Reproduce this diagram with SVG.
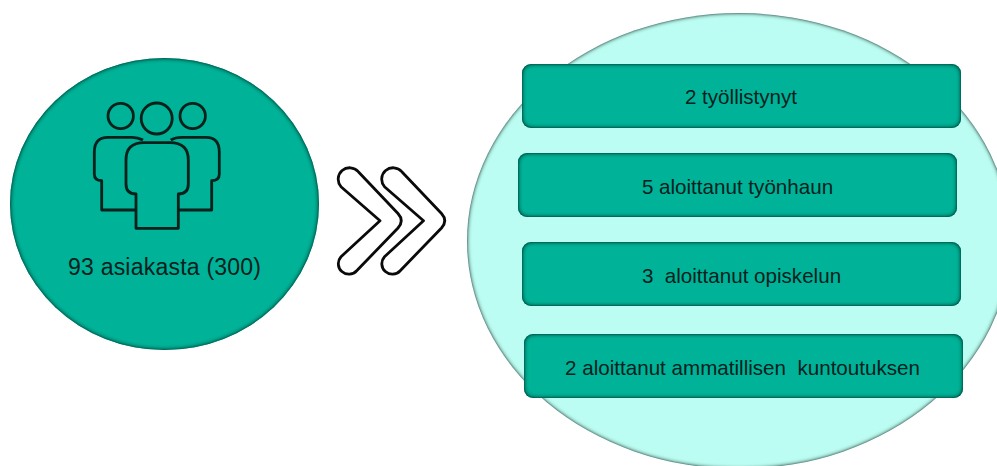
<svg xmlns="http://www.w3.org/2000/svg" width="997" height="466" viewBox="0 0 997 466">
<style>
.lbl{font-family:"Liberation Sans",Arial,sans-serif;fill:#04211d;text-anchor:middle;font-size:20.6px}
.box{fill:#00B398;filter:url(#inset)}
.icon{fill:none;stroke:#03201b;stroke-width:2.800;stroke-linejoin:round}
.chev{fill:#fff;stroke:#0a0a0a;stroke-width:2.800;stroke-linejoin:round}
</style>
<defs>
<filter id="inset" x="-5%" y="-5%" width="110%" height="110%">
<feGaussianBlur in="SourceAlpha" stdDeviation="2.500" result="b"/>
<feComposite in="SourceAlpha" in2="b" operator="out" result="e"/>
<feFlood flood-color="#00483d"/>
<feComposite in2="e" operator="in" result="s"/>
<feComponentTransfer in="s" result="s2"><feFuncA type="linear" slope="1.800"/></feComponentTransfer>
<feMerge><feMergeNode in="SourceGraphic"/><feMergeNode in="s2"/></feMerge>
</filter>
<filter id="soft" x="-5%" y="-5%" width="110%" height="110%">
<feGaussianBlur in="SourceAlpha" stdDeviation="2" result="b"/>
<feComposite in="SourceAlpha" in2="b" operator="out" result="e"/>
<feFlood flood-color="#3a5a55"/>
<feComposite in2="e" operator="in" result="s"/>
<feComponentTransfer in="s" result="s2"><feFuncA type="linear" slope="1.800"/></feComponentTransfer>
<feMerge><feMergeNode in="SourceGraphic"/><feMergeNode in="s2"/></feMerge>
</filter>
<path id="chevron" class="chev" d="M358.300 171.700L398 213.500Q404.500 220.700 398 228L356.700 270.700A10 10 0 0 1 341 256.700L380 220.700L341 186.700A10 10 0 0 1 358.300 171.700Z"/>
</defs>
<rect width="997" height="466" fill="#fff"/>
<g id="customers">
<ellipse cx="164.500" cy="204" rx="154.500" ry="146" class="box"/>
<g id="people-icon" class="icon">
<circle cx="120.700" cy="116" r="12.700"/>
<circle cx="156.700" cy="118.500" r="15.500"/>
<circle cx="192.700" cy="116" r="12.700"/>
<path d="M126 160Q126 142.700 144 142.700H170Q188.300 142.700 188.300 160V184Q188.300 194 178.300 194V228.300H136V194Q126 194 126 184Z"/>
<path d="M143 140Q138 137.300 132 137.300H108Q94.300 137.300 94.300 152V174Q94.300 180.700 101.700 180.700V210H135"/>
<path d="M170.700 140Q175 137.300 182 137.300H206Q219.300 137.300 219.300 152V174Q219.300 180.700 211.700 180.700V210H178"/>
</g>
<text class="lbl" x="164.500" y="275" style="font-size:23px" textLength="193" lengthAdjust="spacing">93 asiakasta (300)</text>
</g>
<g id="connectors">
<use href="#chevron"/>
<use href="#chevron" x="43.500"/>
</g>
<g id="outcomes">
<ellipse cx="739" cy="241" rx="272" ry="228" fill="#BBFDF2" filter="url(#soft)"/>
</g>
<g id="n1"><rect class="box" x="522" y="64" width="439" height="64" rx="9"/><text class="lbl" x="741" y="104">2 työllistynyt</text></g>
<g id="n2"><rect class="box" x="518" y="153" width="439" height="64" rx="9"/><text class="lbl" x="737.500" y="193.500">5 aloittanut työnhaun</text></g>
<g id="n3"><rect class="box" x="522" y="242" width="439" height="64" rx="9"/><text class="lbl" x="741.500" y="282.500" xml:space="preserve">3  aloittanut opiskelun</text></g>
<g id="n4"><rect class="box" x="524" y="334" width="439" height="64" rx="9"/><text class="lbl" x="742.500" y="374.500" xml:space="preserve">2 aloittanut ammatillisen  kuntoutuksen</text></g>
</svg>
